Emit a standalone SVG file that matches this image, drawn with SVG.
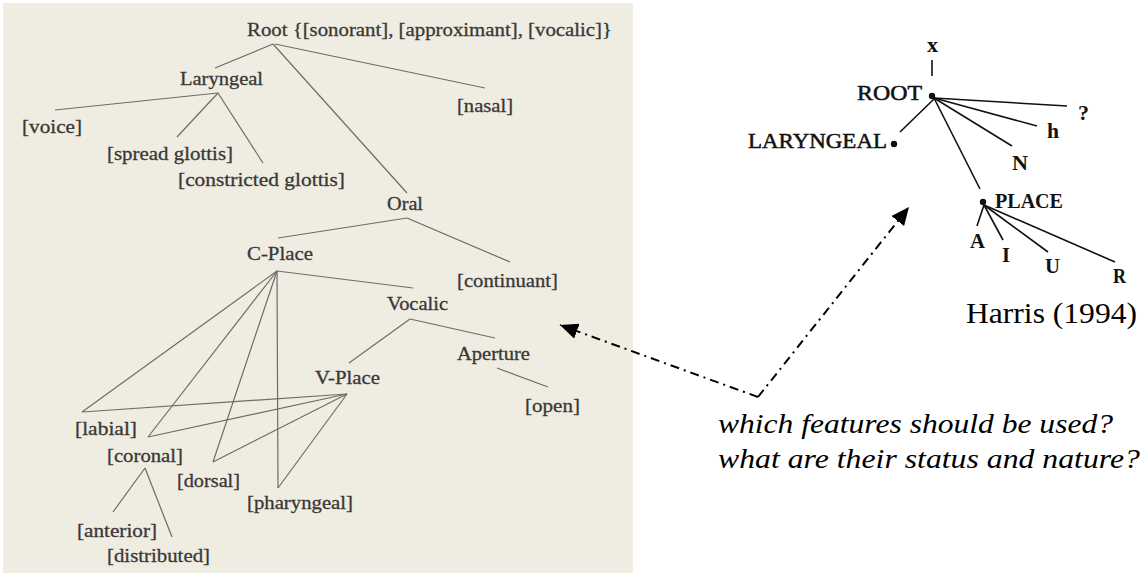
<svg xmlns="http://www.w3.org/2000/svg" width="1143" height="575" viewBox="0 0 1143 575">
<style>
  .scan { font-family: "Liberation Serif", serif; font-size: 19px; fill: #3a3836; stroke: #3a3836; stroke-width: 0.3; }
  .hl { font-family: "Liberation Serif", serif; font-size: 21px; fill: #111; stroke: #111; stroke-width: 0.5; }
  .hb { font-family: "Liberation Serif", serif; font-size: 20px; font-weight: bold; fill: #111; }
  .sl { stroke: #6e6c68; stroke-width: 1.2; fill: none; }
  .hlink { stroke: #111; stroke-width: 1.6; fill: none; }
  .dd { stroke: #000; stroke-width: 2; fill: none; stroke-dasharray: 9 5 2 5; }
  .cap { font-family: "Liberation Serif", serif; font-size: 30px; fill: #000; }
  .q { font-family: "Liberation Serif", serif; font-size: 27px; font-style: italic; fill: #000; }
</style>
<defs>
  <marker id="arr" markerUnits="userSpaceOnUse" markerWidth="20" markerHeight="16" refX="18" refY="8" orient="auto">
    <path d="M0,0 L18,8 L0,16 Z" fill="#000"/>
  </marker>
</defs>
<rect x="0" y="0" width="1143" height="575" fill="#fff"/>
<rect x="3" y="3" width="630" height="570" fill="#efece2"/>

<g id="connectors">
  <g id="left-tree-links">
    <line class="sl" x1="273" y1="44" x2="215" y2="68"/>
    <line class="sl" x1="273" y1="44" x2="407" y2="193"/>
    <line class="sl" x1="275" y1="44" x2="485" y2="88"/>
    <line class="sl" x1="218" y1="93" x2="55" y2="110"/>
    <line class="sl" x1="218" y1="93" x2="177" y2="137"/>
    <line class="sl" x1="218" y1="93" x2="263" y2="163"/>
    <line class="sl" x1="407" y1="218" x2="278" y2="238"/>
    <line class="sl" x1="407" y1="218" x2="510" y2="262"/>
    <line class="sl" x1="277" y1="271" x2="413" y2="288"/>
    <line class="sl" x1="277" y1="271" x2="82" y2="412"/>
    <line class="sl" x1="277" y1="271" x2="148" y2="437"/>
    <line class="sl" x1="277" y1="271" x2="213" y2="462"/>
    <line class="sl" x1="277" y1="271" x2="278" y2="488"/>
    <line class="sl" x1="410" y1="319" x2="349" y2="363"/>
    <line class="sl" x1="410" y1="319" x2="495" y2="338"/>
    <line class="sl" x1="497" y1="368" x2="548" y2="387"/>
    <line class="sl" x1="347" y1="394" x2="82" y2="412"/>
    <line class="sl" x1="347" y1="394" x2="148" y2="437"/>
    <line class="sl" x1="347" y1="394" x2="213" y2="462"/>
    <line class="sl" x1="347" y1="394" x2="278" y2="488"/>
    <line class="sl" x1="145" y1="468" x2="113" y2="512"/>
    <line class="sl" x1="145" y1="468" x2="172" y2="537"/>
  </g>
  <g id="right-tree-links">
    <line class="hlink" x1="932" y1="60" x2="932" y2="76"/>
    <line class="hlink" x1="934" y1="99" x2="900" y2="132"/>
    <line class="hlink" x1="934" y1="98" x2="1067" y2="106"/>
    <line class="hlink" x1="934" y1="98" x2="1037" y2="126"/>
    <line class="hlink" x1="934" y1="98" x2="1012" y2="146"/>
    <line class="hlink" x1="934" y1="98" x2="980" y2="189"/>
    <line class="hlink" x1="984" y1="205" x2="977" y2="226"/>
    <line class="hlink" x1="984" y1="205" x2="1003" y2="240"/>
    <line class="hlink" x1="984" y1="205" x2="1048" y2="252"/>
    <line class="hlink" x1="984" y1="205" x2="1115" y2="262"/>
  </g>
  <g id="question-arrows">
    <line class="dd" x1="758" y1="397" x2="560" y2="325" marker-end="url(#arr)"/>
    <line class="dd" x1="758" y1="397" x2="909" y2="207" marker-end="url(#arr)"/>
  </g>
</g>

<g id="left-tree">
  <g id="n-root"><text class="scan" x="247" y="36" textLength="365" lengthAdjust="spacingAndGlyphs">Root {[sonorant], [approximant], [vocalic]}</text></g>
  <g id="n-laryngeal"><text class="scan" x="180" y="85" textLength="83" lengthAdjust="spacingAndGlyphs">Laryngeal</text></g>
  <g id="n-nasal"><text class="scan" x="457" y="112" textLength="56" lengthAdjust="spacingAndGlyphs">[nasal]</text></g>
  <g id="n-voice"><text class="scan" x="22" y="133" textLength="60" lengthAdjust="spacingAndGlyphs">[voice]</text></g>
  <g id="n-spread"><text class="scan" x="107" y="160" textLength="126" lengthAdjust="spacingAndGlyphs">[spread glottis]</text></g>
  <g id="n-constricted"><text class="scan" x="178" y="186" textLength="167" lengthAdjust="spacingAndGlyphs">[constricted glottis]</text></g>
  <g id="n-oral"><text class="scan" x="387" y="210" textLength="36" lengthAdjust="spacingAndGlyphs">Oral</text></g>
  <g id="n-cplace"><text class="scan" x="247" y="260" textLength="66" lengthAdjust="spacingAndGlyphs">C-Place</text></g>
  <g id="n-continuant"><text class="scan" x="457" y="287" textLength="101" lengthAdjust="spacingAndGlyphs">[continuant]</text></g>
  <g id="n-vocalic"><text class="scan" x="387" y="310" textLength="61" lengthAdjust="spacingAndGlyphs">Vocalic</text></g>
  <g id="n-aperture"><text class="scan" x="457" y="360" textLength="73" lengthAdjust="spacingAndGlyphs">Aperture</text></g>
  <g id="n-vplace"><text class="scan" x="315" y="384" textLength="65" lengthAdjust="spacingAndGlyphs">V-Place</text></g>
  <g id="n-open"><text class="scan" x="525" y="412" textLength="55" lengthAdjust="spacingAndGlyphs">[open]</text></g>
  <g id="n-labial"><text class="scan" x="75" y="435" textLength="62" lengthAdjust="spacingAndGlyphs">[labial]</text></g>
  <g id="n-coronal"><text class="scan" x="107" y="462" textLength="76" lengthAdjust="spacingAndGlyphs">[coronal]</text></g>
  <g id="n-dorsal"><text class="scan" x="177" y="487" textLength="63" lengthAdjust="spacingAndGlyphs">[dorsal]</text></g>
  <g id="n-pharyngeal"><text class="scan" x="247" y="509" textLength="106" lengthAdjust="spacingAndGlyphs">[pharyngeal]</text></g>
  <g id="n-anterior"><text class="scan" x="77" y="537" textLength="80" lengthAdjust="spacingAndGlyphs">[anterior]</text></g>
  <g id="n-distributed"><text class="scan" x="107" y="562" textLength="103" lengthAdjust="spacingAndGlyphs">[distributed]</text></g>
</g>

<g id="right-tree">
  <g id="h-x"><text class="hb" x="927" y="52" textLength="11" lengthAdjust="spacingAndGlyphs">x</text></g>
  <g id="h-root"><text class="hl" x="857" y="100" textLength="65" lengthAdjust="spacingAndGlyphs">ROOT</text><circle cx="932" cy="96" r="3.2" fill="#111"/></g>
  <g id="h-laryngeal"><text class="hl" x="748" y="148" textLength="139" lengthAdjust="spacingAndGlyphs">LARYNGEAL</text><circle cx="894" cy="144" r="3.2" fill="#111"/></g>
  <g id="h-glottal"><text class="hb" x="1078" y="120" textLength="11" lengthAdjust="spacingAndGlyphs">?</text></g>
  <g id="h-h"><text class="hb" x="1047" y="138" textLength="12" lengthAdjust="spacingAndGlyphs">h</text></g>
  <g id="h-n"><text class="hb" x="1012" y="170" textLength="16" lengthAdjust="spacingAndGlyphs">N</text></g>
  <g id="h-place"><circle cx="983" cy="202" r="3.2" fill="#111"/><text class="hb" x="995" y="208" textLength="68" lengthAdjust="spacingAndGlyphs">PLACE</text></g>
  <g id="h-a"><text class="hb" x="970" y="248" textLength="15" lengthAdjust="spacingAndGlyphs">A</text></g>
  <g id="h-i"><text class="hb" x="1002" y="262" textLength="8" lengthAdjust="spacingAndGlyphs">I</text></g>
  <g id="h-u"><text class="hb" x="1045" y="273" textLength="15" lengthAdjust="spacingAndGlyphs">U</text></g>
  <g id="h-r"><text class="hb" x="1113" y="283" textLength="13" lengthAdjust="spacingAndGlyphs">R</text></g>
</g>

<g id="caption"><text class="cap" x="966" y="323" textLength="171" lengthAdjust="spacingAndGlyphs">Harris (1994)</text></g>
<g id="question">
  <text class="q" x="718" y="433" textLength="395" lengthAdjust="spacingAndGlyphs">which features should be used?</text>
  <text class="q" x="718" y="468" textLength="422" lengthAdjust="spacingAndGlyphs">what are their status and nature?</text>
</g>
</svg>
